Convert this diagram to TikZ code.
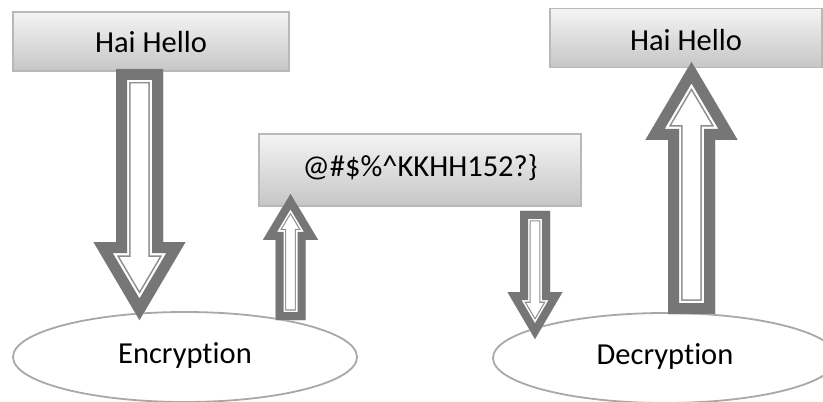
\documentclass[tikz,border=0pt]{standalone}
\usepackage{fontspec}
\setmainfont{Carlito}[Ligatures={NoCommon,NoContextual}]
\usetikzlibrary{calc,shapes.geometric}

\definecolor{bandgray}{HTML}{767676}
\definecolor{linegray}{HTML}{8C8C8C}
\definecolor{boxedge}{HTML}{B8B8B8}
\definecolor{ovaledge}{HTML}{A8A8A8}
\definecolor{boxtop}{HTML}{F4F4F4}
\definecolor{boxbottom}{HTML}{C6C6C6}

% Hollow block arrow with a thick grey rim and a thin inner outline.
% #1 name, #2 tail, #3 tip, #4 head length (signed, towards the tail),
% #5 shaft half width, #6 head half width, #7 rim width
\newcommand\blockarrow[7]{%
  \coordinate (#1-1) at ($(#2)+(-#5,0)$);
  \coordinate (#1-2) at ($(#3)+(-#5,#4)$);
  \coordinate (#1-3) at ($(#3)+(-#6,#4)$);
  \coordinate (#1-4) at (#3);
  \coordinate (#1-5) at ($(#3)+(#6,#4)$);
  \coordinate (#1-6) at ($(#3)+(#5,#4)$);
  \coordinate (#1-7) at ($(#2)+(#5,0)$);
  \begin{scope}
    \clip (#1-1) -- (#1-2) -- (#1-3) -- (#1-4) -- (#1-5) -- (#1-6) -- (#1-7) -- cycle;
    \fill[white] (#1-1) -- (#1-2) -- (#1-3) -- (#1-4) -- (#1-5) -- (#1-6) -- (#1-7) -- cycle;
    \draw[linegray, line width={2*1.34*(#7)*1pt}]
      (#1-1) -- (#1-2) -- (#1-3) -- (#1-4) -- (#1-5) -- (#1-6) -- (#1-7) -- cycle;
    \draw[white, line width={2*1.2*(#7)*1pt}]
      (#1-1) -- (#1-2) -- (#1-3) -- (#1-4) -- (#1-5) -- (#1-6) -- (#1-7) -- cycle;
    \draw[bandgray, line width={2*(#7)*1pt}]
      (#1-1) -- (#1-2) -- (#1-3) -- (#1-4) -- (#1-5) -- (#1-6) -- (#1-7) -- cycle;
  \end{scope}}

\tikzset{
  label text/.style={font=\fontsize{30.5}{36}\selectfont, text=black},
  msgbox/.style={label text, rectangle, draw=boxedge, line width=1.5pt,
    top color=boxtop, bottom color=boxbottom, inner sep=0pt,
    text height=19.3pt, text depth=0pt},
  oval/.style={label text, ellipse, draw=ovaledge, line width=1.8pt, fill=white,
    minimum width=344pt, minimum height=90pt, inner sep=0pt,
    text height=19.3pt, text depth=6pt}
}

\begin{document}
\begin{tikzpicture}[x=1pt, y=-1pt]
  \useasboundingbox (0,0) rectangle (823,402);
  \fill[white] (0,0) rectangle (823,402);
  \clip (0,0) rectangle (823,402);

  % messages
  \node[msgbox, minimum width=276pt, minimum height=59pt, text height=22.5pt]
    (plain1) at (151,41.5) {Hai Hello};
  \node[msgbox, minimum width=322pt, minimum height=72pt, text depth=6pt]
    (cipher) at (420,170) {@\#\$\%\textasciicircum KKHH152?\}};
  \node[msgbox, minimum width=272pt, minimum height=59pt, text height=24.5pt]
    (plain2) at (686,38) {Hai Hello};

  % operations
  \node[oval] (enc) at (185,357) {Encryption};
  \node[oval] (dec) at (665,358) {Decryption};

  % arrow end points
  \coordinate (a1t) at ($(plain1.south)+(-11.5,-3)$);
  \coordinate (a1h) at ($(enc.north)+(-45.5,9)$);
  \coordinate (a2t) at ($(enc.north)+(105.5,9)$);
  \coordinate (a2h) at ($(cipher.south)+(-129.5,-13)$);
  \coordinate (a3t) at ($(cipher.south)+(115,4)$);
  \coordinate (a3h) at ($(dec.north)+(-130,27)$);
  \coordinate (a4t) at ($(dec.north)+(26.5,2)$);
  \coordinate (a4h) at ($(plain2.south)+(5.5,-6.5)$);

  % flow
  \blockarrow{a1}{a1t}{a1h}{-78}{23.5}{46}{11}
  \blockarrow{a2}{a2t}{a2h}{46}{15}{27.5}{8}
  \blockarrow{a3}{a3t}{a3h}{-47}{15}{27.5}{8}
  \blockarrow{a4}{a4t}{a4h}{78}{23.5}{46}{11}
\end{tikzpicture}
\end{document}
